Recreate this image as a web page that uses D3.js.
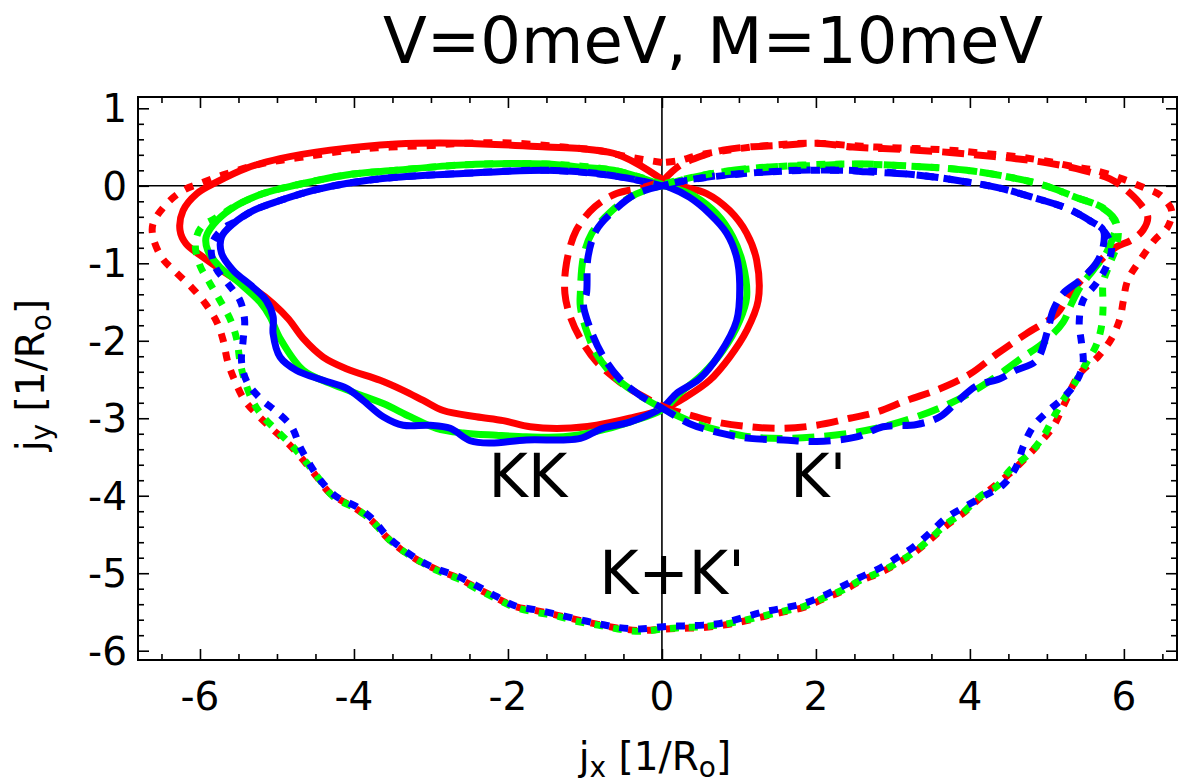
<!DOCTYPE html>
<html><head><meta charset="utf-8">
<script src="https://cdn.jsdelivr.net/npm/d3@7"></script>
<style>body{margin:0;background:#fff}svg{display:block}text{font-family:"DejaVu Sans",sans-serif;fill:#000}</style>
</head><body>
<svg id="c" width="1180" height="783"></svg>
<script>
// ---- data ----
const title = "V=0meV, M=10meV";
const xTicks = [-6,-4,-2,0,2,4,6];
const yTicks = [1,0,-1,-2,-3,-4,-5,-6];
const colors = ["#ff0000","#00ff00","#0000ff"];

// K (solid)
const kRed = [[0.02,0.07],[-0.33,0.29],[-0.63,0.42],[-1.06,0.48],[-1.5,0.5],[-2.58,0.55],[-3.45,0.54],[-4.31,0.46],[-4.96,0.35],[-5.39,0.23],[-5.78,0.05],[-6.04,-0.1],[-6.22,-0.32],[-6.26,-0.57],[-6.18,-0.75],[-5.96,-0.92],[-5.61,-1.16],[-5.27,-1.35],[-5.05,-1.52],[-4.85,-1.72],[-4.66,-1.97],[-4.4,-2.21],[-4.1,-2.36],[-3.66,-2.51],[-3.36,-2.64],[-3.1,-2.77],[-2.84,-2.9],[-2.41,-2.98],[-2.06,-3.03],[-1.71,-3.11],[-1.28,-3.13],[-0.85,-3.09],[-0.42,-3.0],[0.02,-2.88],[0.32,-2.72],[0.62,-2.51],[0.88,-2.21],[1.1,-1.87],[1.25,-1.48],[1.23,-0.96],[1.1,-0.61],[0.88,-0.32],[0.58,-0.1],[0.23,0.0],[0.02,0.07]];
const kGreen = [[0.02,0.0],[-0.29,0.11],[-0.63,0.2],[-1.06,0.24],[-1.5,0.28],[-2.58,0.27],[-3.45,0.2],[-4.1,0.14],[-4.75,0.01],[-5.18,-0.1],[-5.52,-0.25],[-5.78,-0.45],[-5.92,-0.66],[-5.9,-0.83],[-5.74,-1.05],[-5.48,-1.26],[-5.22,-1.5],[-5.09,-1.69],[-4.96,-1.97],[-4.66,-2.38],[-4.31,-2.55],[-3.97,-2.68],[-3.62,-2.81],[-3.27,-2.98],[-2.93,-3.13],[-2.58,-3.19],[-2.15,-3.22],[-1.76,-3.24],[-1.28,-3.24],[-0.85,-3.17],[-0.42,-3.05],[0.02,-2.88],[0.23,-2.68],[0.53,-2.43],[0.79,-2.13],[1.01,-1.74],[1.1,-1.44],[1.05,-1.0],[0.92,-0.66],[0.71,-0.36],[0.45,-0.15],[0.19,-0.04],[0.02,0.0]];
const kBlue = [[0.02,0.0],[-0.29,0.07],[-0.63,0.13],[-1.06,0.18],[-1.5,0.2],[-2.58,0.16],[-3.45,0.11],[-4.1,0.03],[-4.53,-0.06],[-4.96,-0.19],[-5.31,-0.32],[-5.57,-0.49],[-5.72,-0.66],[-5.72,-0.87],[-5.57,-1.09],[-5.31,-1.31],[-5.14,-1.48],[-5.05,-1.69],[-5.05,-1.91],[-4.96,-2.21],[-4.75,-2.38],[-4.4,-2.51],[-4.1,-2.61],[-3.88,-2.77],[-3.62,-2.98],[-3.36,-3.09],[-3.01,-3.09],[-2.75,-3.13],[-2.49,-3.29],[-2.23,-3.32],[-1.76,-3.28],[-1.28,-3.28],[-1.06,-3.26],[-0.77,-3.13],[-0.42,-3.05],[0.02,-2.85],[0.19,-2.68],[0.49,-2.49],[0.75,-2.17],[0.97,-1.74],[1.01,-1.26],[0.97,-0.92],[0.84,-0.61],[0.62,-0.36],[0.36,-0.15],[0.1,-0.02],[0.02,0.0]];

// K' (dashed)
const kpRed = [[0.02,0.07],[0.23,0.26],[0.53,0.39],[0.79,0.46],[1.1,0.5],[1.53,0.52],[2.01,0.55],[2.48,0.5],[2.87,0.48],[3.3,0.46],[3.74,0.43],[4.17,0.39],[4.6,0.35],[5.04,0.29],[5.47,0.2],[5.82,0.09],[5.99,-0.02],[6.21,-0.23],[6.31,-0.4],[6.25,-0.57],[6.1,-0.7],[5.9,-0.79],[5.73,-0.93],[5.3,-1.39],[5.13,-1.65],[4.73,-1.91],[4.35,-2.17],[4.0,-2.43],[3.61,-2.62],[3.18,-2.77],[2.79,-2.92],[2.44,-3.0],[2.01,-3.09],[1.58,-3.13],[1.14,-3.11],[0.71,-3.05],[0.36,-2.96],[0.02,-2.85],[-0.24,-2.72],[-0.55,-2.53],[-0.85,-2.27],[-1.06,-1.97],[-1.19,-1.69],[-1.26,-1.39],[-1.24,-1.0],[-1.11,-0.57],[-0.87,-0.27],[-0.59,-0.1],[-0.24,-0.02],[0.02,0.07]];
const kpGreen = [[0.0,0.0],[0.32,0.09],[0.66,0.16],[1.1,0.22],[1.53,0.25],[1.96,0.26],[2.4,0.28],[2.66,0.28],[3.31,0.25],[3.96,0.2],[4.52,0.11],[4.95,0.01],[5.38,-0.15],[5.73,-0.29],[5.9,-0.47],[5.86,-0.66],[5.77,-0.87],[5.6,-1.09],[5.43,-1.31],[5.32,-1.52],[5.21,-1.76],[4.95,-2.03],[4.69,-2.21],[4.43,-2.4],[4.13,-2.6],[3.74,-2.81],[3.31,-2.98],[2.87,-3.11],[2.46,-3.19],[2.01,-3.24],[1.58,-3.26],[1.14,-3.24],[0.79,-3.17],[0.45,-3.07],[0.02,-2.88],[-0.33,-2.68],[-0.63,-2.45],[-0.85,-2.17],[-0.98,-1.87],[-1.06,-1.56],[-1.06,-1.39],[-1.02,-0.92],[-0.91,-0.61],[-0.67,-0.34],[-0.42,-0.15],[-0.16,-0.04],[0.0,0.0]];
const kpBlue = [[0.0,0.0],[0.32,0.07],[0.71,0.13],[1.23,0.17],[1.75,0.2],[2.4,0.2],[2.66,0.18],[3.31,0.14],[3.96,0.05],[4.39,-0.03],[4.82,-0.15],[5.26,-0.29],[5.56,-0.45],[5.73,-0.57],[5.73,-0.79],[5.64,-1.0],[5.43,-1.22],[5.21,-1.39],[5.08,-1.61],[5.01,-1.87],[4.86,-2.26],[4.6,-2.38],[4.39,-2.49],[4.09,-2.58],[3.83,-2.79],[3.61,-2.98],[3.31,-3.08],[2.87,-3.11],[2.53,-3.24],[2.01,-3.3],[1.58,-3.28],[1.14,-3.26],[0.75,-3.19],[0.36,-3.07],[0.02,-2.88],[-0.29,-2.7],[-0.55,-2.49],[-0.77,-2.19],[-0.94,-1.82],[-1.02,-1.52],[-0.98,-1.39],[-0.96,-0.92],[-0.85,-0.57],[-0.59,-0.29],[-0.33,-0.1],[0.0,0.0]];

// K+K' (dotted)
const kkRed = [[0.0,0.3],[-0.42,0.37],[-0.85,0.46],[-1.28,0.5],[-1.93,0.55],[-2.58,0.55],[-3.01,0.52],[-3.53,0.5],[-4.05,0.46],[-4.66,0.37],[-5.18,0.29],[-5.7,0.14],[-6.0,0.03],[-6.22,-0.06],[-6.45,-0.25],[-6.61,-0.49],[-6.61,-0.66],[-6.5,-0.92],[-6.32,-1.11],[-6.11,-1.31],[-5.93,-1.52],[-5.78,-1.76],[-5.7,-1.99],[-5.64,-2.27],[-5.55,-2.51],[-5.42,-2.77],[-5.25,-2.96],[-5.05,-3.15],[-4.86,-3.32],[-4.66,-3.54],[-4.48,-3.76],[-4.31,-3.97],[-3.97,-4.17],[-3.75,-4.34],[-3.58,-4.53],[-3.38,-4.7],[-3.14,-4.85],[-2.91,-4.96],[-2.65,-5.06],[-2.41,-5.19],[-2.15,-5.32],[-1.91,-5.43],[-1.65,-5.48],[-1.37,-5.54],[-1.11,-5.6],[-0.83,-5.66],[-0.57,-5.71],[-0.29,-5.74],[0.02,-5.72],[0.28,-5.71],[0.54,-5.7],[0.8,-5.67],[1.06,-5.62],[1.32,-5.56],[1.58,-5.5],[1.84,-5.44],[2.1,-5.33],[2.34,-5.23],[2.58,-5.1],[2.84,-4.99],[3.05,-4.88],[3.27,-4.74],[3.49,-4.56],[3.7,-4.38],[3.92,-4.22],[4.13,-4.03],[4.35,-3.85],[4.52,-3.71],[4.86,-3.37],[5.08,-3.11],[5.21,-2.85],[5.43,-2.42],[5.66,-2.21],[5.84,-1.97],[5.95,-1.71],[5.99,-1.5],[6.05,-1.22],[6.21,-0.96],[6.4,-0.7],[6.57,-0.53],[6.62,-0.32],[6.47,-0.12],[6.25,-0.02],[5.95,0.1],[5.62,0.2],[5.38,0.24],[5.04,0.31],[4.65,0.37],[4.17,0.42],[3.74,0.46],[3.31,0.48],[2.79,0.5],[2.44,0.52],[2.0,0.55],[1.5,0.53],[1.0,0.48],[0.5,0.4],[0.2,0.32],[0.0,0.3]];
const kkGreen = [[0.0,0.02],[-0.63,0.2],[-1.5,0.28],[-2.58,0.27],[-3.45,0.2],[-4.1,0.14],[-4.75,0.01],[-5.18,-0.1],[-5.52,-0.25],[-5.8,-0.42],[-5.98,-0.53],[-6.06,-0.75],[-6.0,-1.03],[-5.87,-1.26],[-5.74,-1.48],[-5.6,-1.74],[-5.52,-1.99],[-5.48,-2.27],[-5.42,-2.51],[-5.31,-2.79],[-5.18,-2.98],[-4.96,-3.2],[-4.79,-3.37],[-4.61,-3.58],[-4.44,-3.8],[-4.27,-4.01],[-3.97,-4.17],[-3.75,-4.34],[-3.58,-4.53],[-3.38,-4.7],[-3.14,-4.85],[-2.91,-4.97],[-2.65,-5.07],[-2.41,-5.2],[-2.15,-5.33],[-1.91,-5.44],[-1.65,-5.5],[-1.37,-5.55],[-1.11,-5.62],[-0.83,-5.67],[-0.57,-5.72],[-0.29,-5.75],[0.02,-5.72],[0.28,-5.7],[0.54,-5.69],[0.8,-5.66],[1.06,-5.61],[1.32,-5.55],[1.58,-5.49],[1.84,-5.43],[2.1,-5.32],[2.34,-5.22],[2.58,-5.09],[2.84,-4.98],[3.05,-4.87],[3.27,-4.73],[3.49,-4.55],[3.7,-4.36],[3.92,-4.21],[4.13,-4.01],[4.35,-3.88],[4.52,-3.67],[4.78,-3.45],[4.95,-3.24],[5.08,-3.0],[5.21,-2.77],[5.36,-2.55],[5.51,-2.29],[5.64,-2.06],[5.71,-1.81],[5.73,-1.55],[5.73,-1.26],[5.82,-1.0],[5.9,-0.79],[5.92,-0.55],[5.75,-0.3],[5.38,-0.15],[4.95,0.01],[4.52,0.11],[3.96,0.2],[3.31,0.25],[2.4,0.28],[1.53,0.25],[0.66,0.16],[0.0,0.02]];
const kkBlue = [[0.0,0.0],[-0.63,0.13],[-1.5,0.2],[-2.58,0.16],[-3.45,0.11],[-4.1,0.03],[-4.53,-0.06],[-4.96,-0.19],[-5.31,-0.32],[-5.55,-0.47],[-5.7,-0.55],[-5.85,-0.77],[-5.8,-1.05],[-5.64,-1.26],[-5.48,-1.48],[-5.42,-1.74],[-5.44,-2.0],[-5.46,-2.27],[-5.39,-2.53],[-5.22,-2.74],[-5.0,-2.92],[-4.81,-3.11],[-4.7,-3.37],[-4.57,-3.6],[-4.42,-3.82],[-4.23,-4.01],[-3.97,-4.14],[-3.75,-4.31],[-3.58,-4.51],[-3.38,-4.68],[-3.14,-4.84],[-2.91,-4.95],[-2.65,-5.04],[-2.41,-5.16],[-2.15,-5.3],[-1.91,-5.42],[-1.65,-5.47],[-1.37,-5.53],[-1.11,-5.59],[-0.83,-5.65],[-0.57,-5.7],[-0.29,-5.72],[0.02,-5.69],[0.28,-5.68],[0.54,-5.67],[0.8,-5.64],[1.06,-5.57],[1.32,-5.5],[1.58,-5.45],[1.84,-5.39],[2.1,-5.29],[2.34,-5.17],[2.58,-5.05],[2.84,-4.93],[3.05,-4.8],[3.27,-4.66],[3.49,-4.47],[3.7,-4.28],[3.92,-4.15],[4.17,-4.01],[4.43,-3.86],[4.6,-3.63],[4.69,-3.37],[4.82,-3.11],[5.0,-2.92],[5.21,-2.74],[5.38,-2.53],[5.47,-2.29],[5.45,-2.03],[5.42,-1.76],[5.47,-1.48],[5.64,-1.26],[5.77,-1.05],[5.84,-0.79],[5.73,-0.57],[5.56,-0.45],[5.26,-0.29],[4.82,-0.15],[4.39,-0.03],[3.96,0.05],[3.31,0.14],[2.4,0.2],[1.23,0.17],[0.32,0.07],[0.0,0.0]];

const labels = [{t:"KK",x:-1.74,y:-4.02},{t:"K'",x:2.03,y:-4.02},{t:"K+K'",x:0.13,y:-5.27}];

// ---- drawing ----
const svg = d3.select("#c");
const L=138, R=1177, T=97, B=660;
const x = d3.scaleLinear().domain([-6.805,6.69]).range([L,R]);
const y = d3.scaleLinear().domain([1.146,-6.12]).range([T,B]);

const line = d3.line().x(d=>x(d[0])).y(d=>y(d[1])).curve(d3.curveCatmullRom.alpha(0.5));
const clipId="pc";
svg.append("clipPath").attr("id",clipId).append("rect").attr("x",L).attr("y",T).attr("width",R-L).attr("height",B-T);

// zero lines
svg.append("line").attr("x1",L).attr("x2",R).attr("y1",y(0)).attr("y2",y(0)).attr("stroke","#000").attr("stroke-width",1.6);
svg.append("line").attr("x1",x(0)).attr("x2",x(0)).attr("y1",T).attr("y2",B).attr("stroke","#000").attr("stroke-width",1.6);

const g = svg.append("g").attr("clip-path",`url(#${clipId})`);
const groups = [
  {data:[kRed,kGreen,kBlue], dash:null},
  {data:[kpRed,kpGreen,kpBlue], dash:"22,10"},
  {data:[kkRed,kkGreen,kkBlue], dash:"9,10"}
];
groups.forEach(gr=>{
  gr.data.forEach((d,i)=>{
    g.append("path").attr("d",line(d)).attr("fill","none")
      .attr("stroke",colors[i]).attr("stroke-width",7)
      .attr("stroke-dasharray",gr.dash).attr("stroke-linejoin","round");
  });
});

// axes (inward ticks)
function addAxis(axisFn, scale, ticks, len, transform){
  const a = axisFn(scale).tickValues(ticks).tickSize(len).tickFormat("");
  const ag = svg.append("g").attr("transform",transform).call(a);
  ag.select(".domain").remove();
  ag.selectAll("line").attr("stroke","#000").attr("stroke-width",1.6);
}
const xMinor = d3.range(-6.5,6.6,0.5).filter(v=>Math.abs(v%2)>1e-6);
const yMinor = d3.range(-6,1.01,0.2).map(v=>Math.round(v*10)/10).filter(v=>Math.abs(v-Math.round(v))>1e-6);
addAxis(d3.axisTop, x, xTicks, 11, `translate(0,${B})`);
addAxis(d3.axisTop, x, xMinor, 6, `translate(0,${B})`);
addAxis(d3.axisBottom, x, xTicks, 11, `translate(0,${T})`);
addAxis(d3.axisBottom, x, xMinor, 6, `translate(0,${T})`);
addAxis(d3.axisRight, y, yTicks, 11, `translate(${L},0)`);
addAxis(d3.axisRight, y, yMinor, 6, `translate(${L},0)`);
addAxis(d3.axisLeft, y, yTicks, 11, `translate(${R},0)`);
addAxis(d3.axisLeft, y, yMinor, 6, `translate(${R},0)`);

// frame
svg.append("rect").attr("x",L).attr("y",T).attr("width",R-L).attr("height",B-T).attr("fill","none").attr("stroke","#000").attr("stroke-width",2);

// tick labels
svg.append("g").selectAll("text").data(xTicks).join("text")
  .attr("x",d=>x(d)).attr("y",710).attr("text-anchor","middle").attr("font-size",39).text(d=>d);
svg.append("g").selectAll("text").data(yTicks).join("text")
  .attr("x",127).attr("y",d=>y(d)+14).attr("text-anchor","end").attr("font-size",39).text(d=>d);

// title
svg.append("text").attr("x",713).attr("y",63).attr("text-anchor","middle").attr("font-size",64).text(title);

// axis labels
function axisLabel(sel, sub){
  sel.append("tspan").text("j");
  sel.append("tspan").attr("font-size",28).attr("dy",7).text(sub);
  sel.append("tspan").attr("dy",-7).text(" [1/R");
  sel.append("tspan").attr("font-size",28).attr("dy",7).text("o");
  sel.append("tspan").attr("dy",-7).text("]");
}
axisLabel(svg.append("text").attr("x",655).attr("y",770).attr("text-anchor","middle").attr("font-size",39),"x");
axisLabel(svg.append("text").attr("transform","translate(44,375) rotate(-90)").attr("text-anchor","middle").attr("font-size",39),"y");

// in-plot labels
svg.append("g").selectAll("text").data(labels).join("text")
  .attr("x",d=>x(d.x)).attr("y",d=>y(d.y)).attr("text-anchor","middle").attr("font-size",60).text(d=>d.t);
</script>
</body></html>
